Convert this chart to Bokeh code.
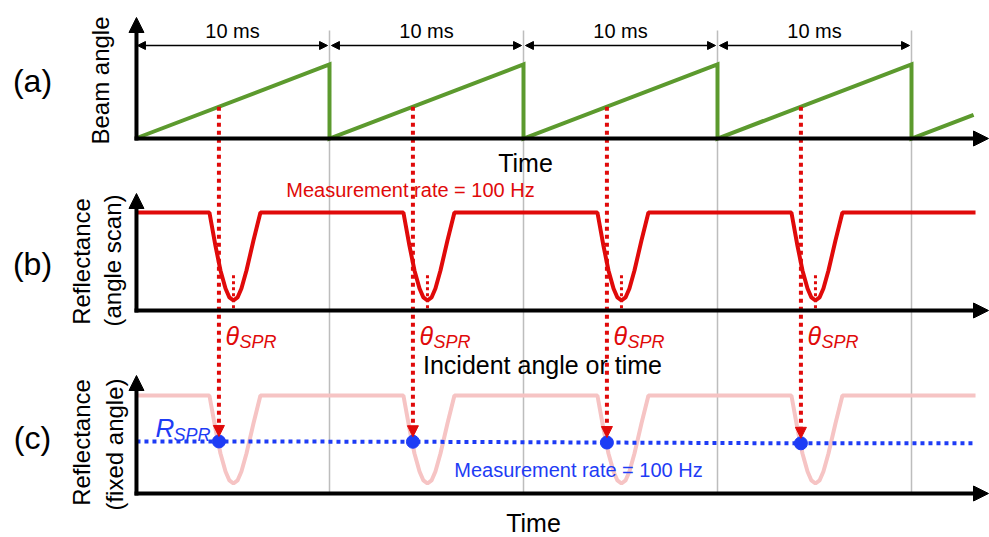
import numpy as np
from bokeh.plotting import figure
from bokeh.models import Range1d, Arrow, NormalHead
from bokeh.core.properties import value
from bokeh.embed import file_html
from bokeh.resources import INLINE

# ---------------- data (time in ms, normalised signal levels) ----------------
period_ms = 10
ramp_times = [0, 10, 10, 20, 20, 30, 30, 40, 40, 43.2]
ramp_angle = [0, 1, 0, 1, 0, 1, 0, 1, 0, 0.32]
period_starts = [0, 10, 20, 30]
period_labels = ["10 ms", "10 ms", "10 ms", "10 ms"]
grid_times = [10, 20, 30, 40]
sample_times = [4.3, 14.3, 24.3, 34.3]
dip_centers = [5.05, 15.05, 25.05, 35.05]
dip_offsets = [-1.24, -0.93, -0.67, -0.41, -0.21, 0.0, 0.21, 0.41, 0.67, 1.03, 1.39]
dip_profile = [1.0, 0.663, 0.408, 0.224, 0.133, 0.102, 0.133, 0.224, 0.408, 0.714, 1.0]
plateau_level = 1.0
scan_start, scan_end = 0.1, 43.3
r_spr = [0.531, 0.528, 0.52, 0.512]
rate_text = "Measurement rate = 100 Hz"

# ---------------- layout ----------------
W, H = 989, 537
X0, PXMS = 135.0, 19.4          # pixel of t=0, pixels per ms
A_BASE, A_SCALE = 138, 74
B_BASE, B_SCALE = 310, 98
C_BASE, C_SCALE = 493, 98
FONT = value("Liberation Sans")
RED, GREEN, BLUE, PINK, GRAY = "#E00A0A", "#5C9A2E", "#1E3CF5", "#F6C4C4", "#BDBDBD"

def tx(px):
    return (px - X0) / PXMS

ya = lambda v: A_BASE - np.asarray(v) * A_SCALE
yb = lambda v: B_BASE - np.asarray(v) * B_SCALE
yc = lambda v: C_BASE - np.asarray(v) * C_SCALE

p = figure(width=W, height=H, x_range=Range1d(tx(0), tx(W)), y_range=Range1d(H, 0),
           x_axis_type=None, y_axis_type=None, toolbar_location=None,
           output_backend="svg", min_border=0, outline_line_color=None)
p.grid.visible = False

# gray period grid lines
p.segment(x0=grid_times, y0=[30] * 4, x1=grid_times, y1=[C_BASE] * 4,
          line_color=GRAY, line_width=1.5)

# (a) sawtooth
p.line(ramp_times, ya(ramp_angle), line_color=GREEN, line_width=4, line_join="miter")

# reflectance curve (angle scan)
cx, cy = [scan_start], [plateau_level]
for c in dip_centers:
    cx += [c + o for o in dip_offsets]
    cy += dip_profile
cx.append(scan_end); cy.append(plateau_level)
p.line(cx, yc(cy), line_color=PINK, line_width=4)
p.line(cx, yb(cy), line_color=RED, line_width=4)

# small dotted at dip minimum
p.segment(x0=dip_centers, y0=list(yb([0.36] * 4)), x1=dip_centers, y1=[B_BASE] * 4,
          line_color=RED, line_width=3, line_dash="3 3")

# blue fixed-angle line and points
bx = [0.05] + sample_times + [scan_end]
by = [r_spr[0]] + r_spr + [r_spr[-1]]
p.line(bx, yc(by), line_color=BLUE, line_width=4, line_dash="4 4")

# red dotted arrows from ramp to fixed-angle samples
for t, r in zip(sample_times, r_spr):
    ang = (t % period_ms) / period_ms
    p.add_layout(Arrow(end=NormalHead(size=11, fill_color=RED, line_color=RED),
                       x_start=t, y_start=float(ya(ang)), x_end=t, y_end=float(yc(r)) - 5,
                       line_color=RED, line_width=4, line_dash="4 4"))
p.scatter(sample_times, yc(r_spr), size=13, color=BLUE)

# axes
for base, top in [(A_BASE, 17), (B_BASE, 193), (C_BASE, 375)]:
    p.add_layout(Arrow(end=NormalHead(size=15, fill_color="black", line_color="black"),
                       x_start=0.05, y_start=base + 2, x_end=0.05, y_end=top, line_width=4))
    p.add_layout(Arrow(end=NormalHead(size=15, fill_color="black", line_color="black"),
                       x_start=-0.05, y_start=base, x_end=tx(988), y_end=base, line_width=4))

# 10 ms dimension arrows
for t0 in period_starts:
    p.add_layout(Arrow(start=NormalHead(size=8, fill_color="black"),
                       end=NormalHead(size=8, fill_color="black"),
                       x_start=t0 + 0.1, y_start=45, x_end=t0 + period_ms - 0.1, y_end=45,
                       line_width=1.5))
p.text(x=[t + period_ms / 2 for t in period_starts], y=[30] * 4, text=period_labels,
       text_font=FONT, text_font_size="20px", text_align="center", text_baseline="middle")

# axis titles
p.text(x=[tx(525), tx(533)], y=[162, 522], text=["Time", "Time"], text_font=FONT,
       text_font_size="25px", text_align="center", text_baseline="middle")
p.text(x=[tx(542)], y=[364], text=["Incident angle or time"], text_font=FONT,
       text_font_size="25px", text_align="center", text_baseline="middle")
p.text(x=[tx(100), tx(81), tx(112), tx(81), tx(114)], y=[80, 261, 260, 442, 444],
       text=["Beam angle", "Reflectance", "(angle scan)", "Reflectance", "(fixed angle)"],
       angle=np.pi / 2, text_font=FONT, text_font_size="24px",
       text_align="center", text_baseline="middle")
p.text(x=[tx(32)] * 3, y=[80, 263, 437], text=["(a)", "(b)", "(c)"], text_font=FONT,
       text_font_size="32px", text_align="center", text_baseline="middle")

# rate labels
p.text(x=[tx(410)], y=[189], text=[rate_text], text_font=FONT, text_font_size="20px",
       text_color=RED, text_align="center", text_baseline="middle")
p.text(x=[tx(578)], y=[469], text=[rate_text], text_font=FONT, text_font_size="20px",
       text_color=BLUE, text_align="center", text_baseline="middle")

# theta_SPR labels
p.text(x=[c - 8 / PXMS for c in dip_centers], y=[335] * 4, text=["θ"] * 4, text_font=FONT,
       text_font_size="25px", text_font_style="italic", text_color=RED,
       text_align="left", text_baseline="alphabetic")
p.text(x=[c + 6 / PXMS for c in dip_centers], y=[341] * 4, text=["SPR"] * 4, text_font=FONT,
       text_font_size="18px", text_font_style="italic", text_color=RED,
       text_align="left", text_baseline="alphabetic")

# R_SPR label
p.text(x=[tx(155)], y=[427], text=["R"], text_font=FONT, text_font_size="26px",
       text_font_style="italic", text_color=BLUE, text_align="left", text_baseline="alphabetic")
p.text(x=[tx(173)], y=[434], text=["SPR"], text_font=FONT, text_font_size="18px",
       text_font_style="italic", text_color=BLUE, text_align="left", text_baseline="alphabetic")

open("out.html", "w").write(file_html(p, INLINE))
